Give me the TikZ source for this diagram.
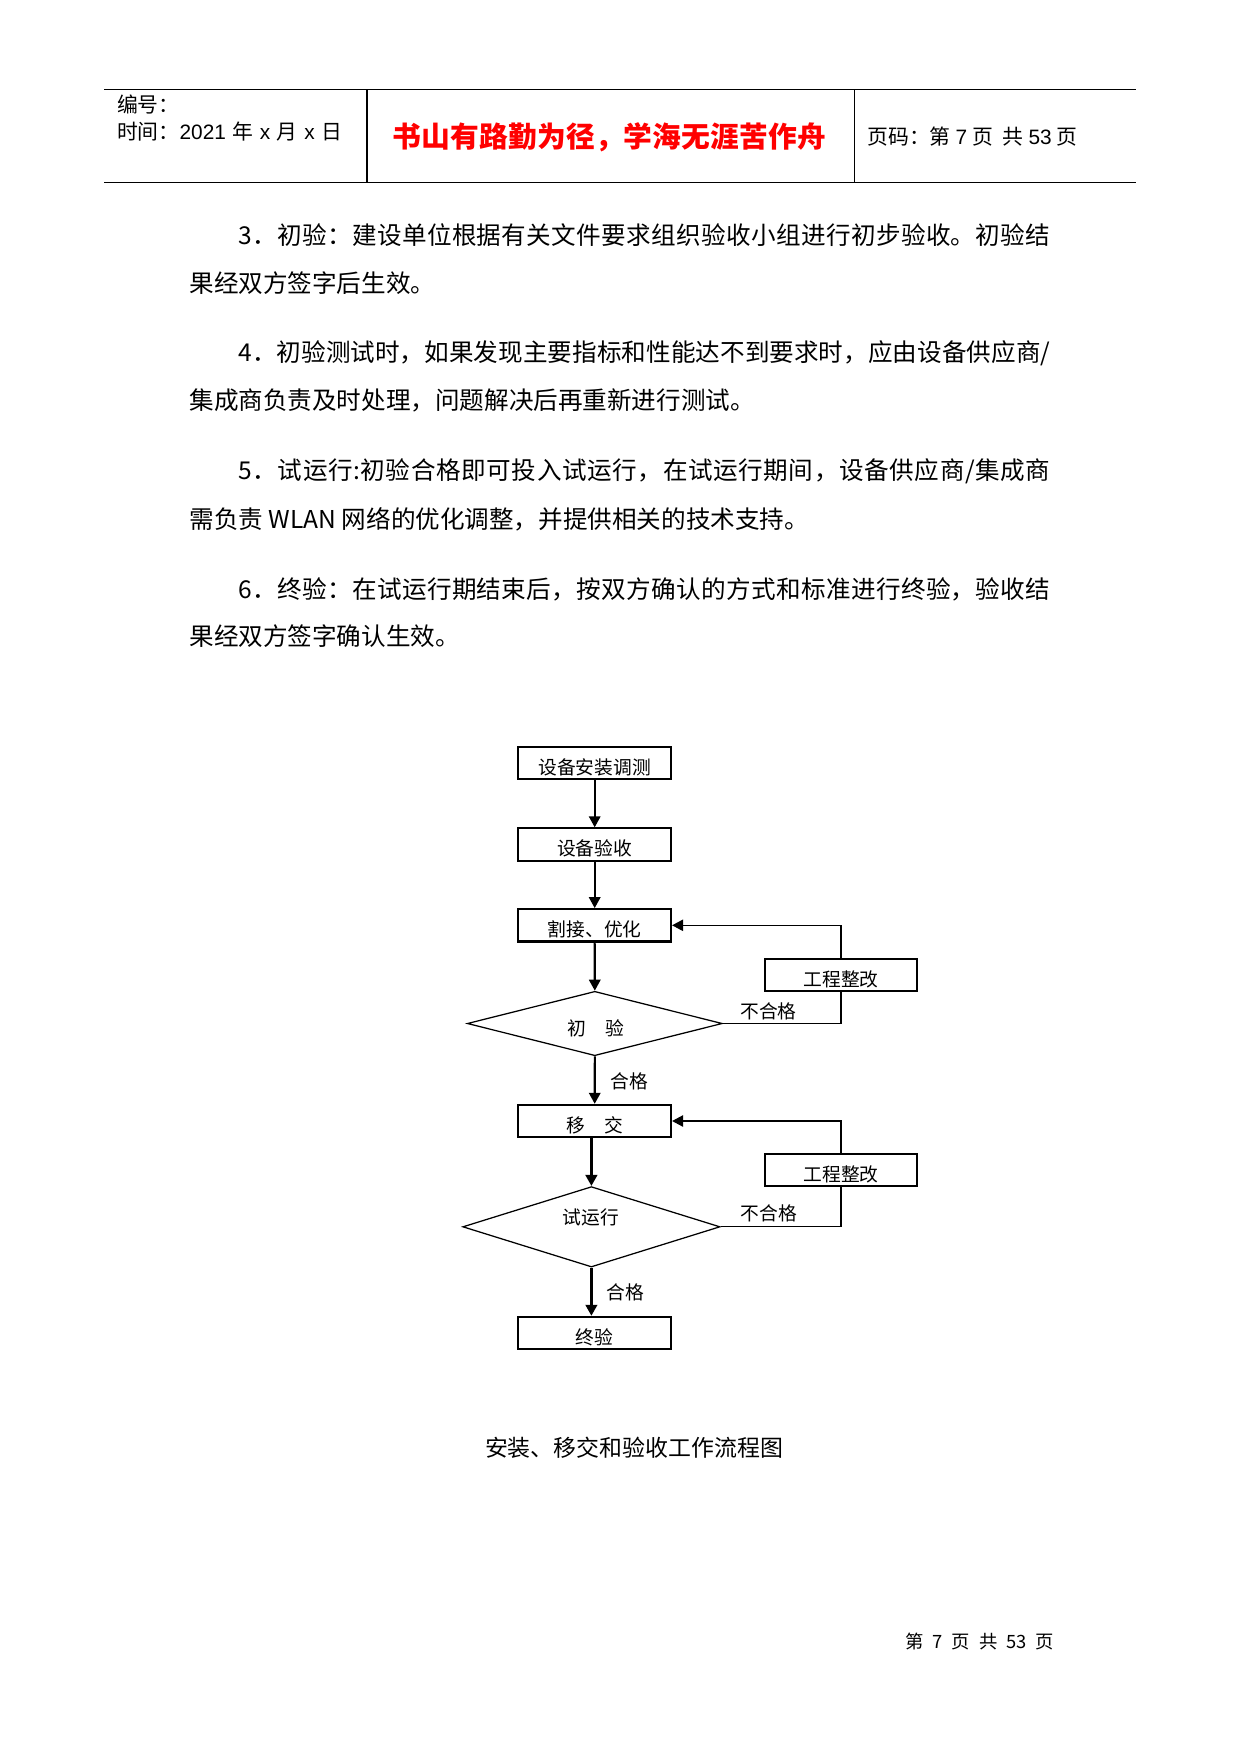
\documentclass[tikz,border=0pt]{standalone}
\usepackage{fontspec}
\newfontfamily\cjk{Noto Sans CJK SC}
\newfontfamily\arial{Liberation Sans}
\usetikzlibrary{shapes.geometric,arrows.meta}
\newdimen\PX \PX=0.48pt
\def\spr#1{\spra#1\relax}
\def\spra#1{\ifx#1\relax\else#1\expandafter\sprb\fi}
\def\sprb#1{\ifx#1\relax\else\hfill#1\expandafter\sprb\fi}
\tikzset{
  hline/.style={line width=0.6pt},
  bodytxt/.style={anchor=west,inner sep=0pt,font=\cjk\fontsize{11.8pt}{14pt}\selectfont},
  hdtxt/.style={anchor=west,inner sep=0pt,font=\cjk\fontsize{10pt}{12pt}\selectfont},
  fbox/.style={draw,line width=1pt,fill=white,minimum width=73.3pt,minimum height=15.5pt,inner sep=0pt,text height=1.1em,text depth=0pt,font=\cjk\fontsize{9pt}{11pt}\selectfont},
  dia/.style={draw,line width=0.6pt,shape=diamond,inner sep=0pt},
  ftxt/.style={inner sep=0pt,font=\cjk\fontsize{9pt}{11pt}\selectfont},
  arr/.style={line width=1pt,-{Triangle[length=5.3pt,width=5.5pt]}},
  tarr/.style={line width=1.7pt,-{Triangle[length=5.3pt,width=5.5pt]}},
  fb/.style={line width=0.6pt},
  fbarr/.style={line width=0.6pt,-{Triangle[length=5.3pt,width=5.5pt]}}
}
\begin{document}
\begin{tikzpicture}[x=0.48pt,y=-0.48pt]
\useasboundingbox[fill=white] (0,0) rectangle (1241,1754);
% header
\draw[hline] (104,89.3) -- (1136,89.3);
\draw[hline] (104,182.3) -- (1136,182.3);
\draw[line width=1pt] (367,89.3) -- (367,182.3);
\draw[line width=0.5pt] (854.3,89.3) -- (854.3,182.3);
\node[hdtxt] (hno) at (116.7,105) {编号：};
\node[hdtxt] (hdate) at (116.7,131.7) {\hbox to 225\PX{时间：\arial 2021\hfill\cjk 年\hfill\arial x\hfill\cjk 月\hfill\arial x\hfill\cjk 日}};
\node[anchor=west,inner sep=0pt,text=red,font=\cjk\bfseries\fontsize{13.8pt}{16pt}\selectfont] (hmotto) at (392,137) {\hbox to 434\PX{\spr{书山有路勤为径，学海无涯苦作舟}}};
\node[hdtxt] (hpage) at (867,136.7) {\hbox to 210\PX{页码：第\hfill\arial 7\hfill\cjk 页\hfill\hfill 共\hfill\arial 53\hfill\cjk 页}};
% body
\node[bodytxt] (p3a) at (238,235) {\hbox to 812\PX{\spr{3．初验：建设单位根据有关文件要求组织验收小组进行初步验收。初验结}}};
\node[bodytxt] (p3b) at (189,283) {果经双方签字后生效。};
\node[bodytxt] (p4a) at (238,353) {\hbox to 812\PX{\spr{4．初验测试时，如果发现主要指标和性能达不到要求时，应由设备供应商/}}};
\node[bodytxt] (p4b) at (189,400) {集成商负责及时处理，问题解决后再重新进行测试。};
\node[bodytxt] (p5a) at (238,471) {\hbox to 812\PX{\spr{5．试运行:初验合格即可投入试运行，在试运行期间，设备供应商/集成商}}};
\node[bodytxt] (p5b) at (189,519) {需负责 WLAN 网络的优化调整，并提供相关的技术支持。};
\node[bodytxt] (p6a) at (238,589.5) {\hbox to 812\PX{\spr{6．终验：在试运行期结束后，按双方确认的方式和标准进行终验，验收结}}};
\node[bodytxt] (p6b) at (189,636) {果经双方签字确认生效。};
% flowchart
\node[fbox] (b1) at (594.7,762.8) {设备安装调测};
\node[fbox] (b2) at (594.7,844.5) {设备验收};
\node[fbox] (b3) at (594.7,925.3) {割接、优化};
\node[dia,minimum width=122.4pt,minimum height=30.9pt] (d1) at (594.8,1023.5) {};
\node[ftxt] (t1) at (596,1028.8) {初　验};
\node[fbox] (b4) at (594.7,1121) {移　交};
\node[dia,minimum width=123.5pt,minimum height=38.6pt] (d2) at (591.4,1226.8) {};
\node[ftxt] (t2) at (591,1217.5) {试运行};
\node[fbox] (b5) at (594.7,1333) {终验};
% feedback loops
\draw[fb] (d1.east) -| (841,974.7);
\draw[fbarr] (841,974.7) |- (b3.east);
\draw[fb] (d2.east) -| (841,1170);
\draw[fbarr] (841,1170) |- (b4.east);
\node[fbox] (g1) at (841,974.7) {工程整改};
\node[fbox] (g2) at (841,1170) {工程整改};
% main arrows
\draw[arr] (b1.south) -- (b2.north);
\draw[arr] (b2.south) -- (b3.north);
\draw[arr] (b3.south) -- (d1.north);
\draw[arr] (d1.south) -- (b4.north);
\draw[tarr] (b4.south -| d2.north) -- (d2.north);
\draw[tarr] (d2.south) -- (d2.south |- b5.north);
% labels
\node[ftxt] (l1) at (629.6,1081) {合格};
\node[ftxt] (l2) at (625,1292.5) {合格};
\node[ftxt] (l3) at (768.5,1011.8) {不合格};
\node[ftxt] (l4) at (769,1213.4) {不合格};
% caption and footer
\node[anchor=west,inner sep=0pt,font=\cjk\fontsize{11pt}{13pt}\selectfont] (cap) at (484.6,1448) {\hbox to 296\PX{\spr{安装、移交和验收工作流程图}}};
\node[anchor=west,inner sep=0pt,font=\cjk\fontsize{8.8pt}{11pt}\selectfont] (foot) at (904.7,1641) {\hbox to 149\PX{第\hfill 7\hfill 页\hfill 共\hfill 53\hfill 页}};
\end{tikzpicture}
\end{document}
